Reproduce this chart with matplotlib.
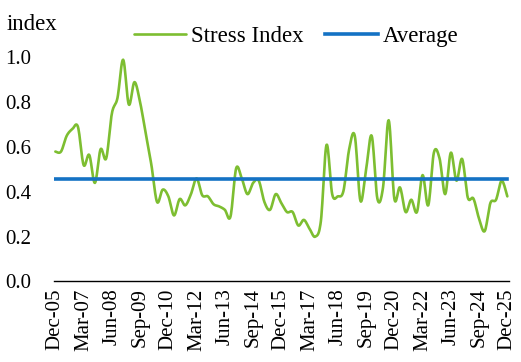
import numpy as np
import matplotlib
matplotlib.use("Agg")
import matplotlib.pyplot as plt

# Quarterly stress index, Dec-05 .. Dec-25
stress_index = [
    0.58, 0.58, 0.65, 0.68, 0.69, 0.52, 0.565, 0.44, 0.59, 0.55,
    0.75, 0.82, 0.99, 0.79, 0.89, 0.80, 0.66, 0.52, 0.355, 0.41,
    0.38, 0.295, 0.368, 0.34, 0.39, 0.46, 0.385, 0.38, 0.345, 0.335,
    0.32, 0.29, 0.505, 0.46, 0.39, 0.44, 0.45, 0.355, 0.32, 0.39,
    0.35, 0.31, 0.31, 0.25, 0.275, 0.235, 0.20, 0.27, 0.61, 0.39,
    0.38, 0.405, 0.59, 0.65, 0.36, 0.50, 0.65, 0.37, 0.42, 0.72,
    0.37, 0.42, 0.31, 0.365, 0.31, 0.475, 0.34, 0.575, 0.55, 0.39,
    0.575, 0.45, 0.547, 0.375, 0.37, 0.28, 0.225, 0.35, 0.365, 0.45,
    0.38,
]
average_value = 0.457

tick_labels = ["Dec-05", "Mar-07", "Jun-08", "Sep-09", "Dec-10", "Mar-12",
               "Jun-13", "Sep-14", "Dec-15", "Mar-17", "Jun-18", "Sep-19",
               "Dec-20", "Mar-22", "Jun-23", "Sep-24", "Dec-25"]
tick_step = 5  # one label every five quarters

y_ticks = [0.0, 0.2, 0.4, 0.6, 0.8, 1.0]

GREEN = "#7DBE31"
BLUE = "#1472C4"
FONT = ["Liberation Serif", "DejaVu Serif"]


def smooth(x, y, n=12):
    """Catmull-Rom curve through the points (smoothed line style)."""
    x = np.asarray(x, float)
    y = np.asarray(y, float)
    px = np.concatenate([[x[0]], x, [x[-1]]])
    py = np.concatenate([[y[0]], y, [y[-1]]])
    t = np.linspace(0, 1, n, endpoint=False)
    xs, ys = [], []
    for i in range(1, len(px) - 2):
        for arr, out in ((px, xs), (py, ys)):
            p0, p1, p2, p3 = arr[i - 1], arr[i], arr[i + 1], arr[i + 2]
            out.append(0.5 * ((2 * p1) + (-p0 + p2) * t
                              + (2 * p0 - 5 * p1 + 4 * p2 - p3) * t ** 2
                              + (-p0 + 3 * p1 - 3 * p2 + p3) * t ** 3))
    xs.append([x[-1]])
    ys.append([y[-1]])
    return np.concatenate(xs), np.concatenate(ys)


plt.rcParams["font.family"] = FONT

fig = plt.figure(figsize=(5.21, 3.62), dpi=100)
ax = fig.add_axes([0.103, 0.2224, 0.874, 0.6188])

q = np.arange(len(stress_index))
sx, sy = smooth(q, stress_index)
ax.plot(sx, sy, color=GREEN, lw=1.9, label="Stress Index", clip_on=False,
        solid_capstyle="round", zorder=3)
ax.plot([q[0], q[-1]], [average_value, average_value], color=BLUE, lw=2.6,
        label="Average", zorder=4)

ax.set_xlim(-0.3, q[-1] + 0.3)
ax.set_ylim(0, 1.0)
ax.set_yticks(y_ticks)
ax.set_yticklabels([f"{v:.1f}" for v in y_ticks], fontsize=15)
ax.set_xticks(q[::tick_step])
ax.set_xticklabels(tick_labels, rotation=90, fontsize=15)
ax.tick_params(axis="both", length=0)
ax.tick_params(axis="y", pad=16)
ax.tick_params(axis="x", pad=5)

for side in ("top", "right", "left"):
    ax.spines[side].set_visible(False)
ax.spines["bottom"].set_color("black")
ax.spines["bottom"].set_linewidth(1.0)

fig.text(0.013, 0.933, "index", fontsize=16.5, ha="left", va="center")

fig.legend(loc="center", bbox_to_anchor=(0.568, 0.898), ncol=2, frameon=False,
           fontsize=16.5, handlelength=2.3, handletextpad=0.2,
           columnspacing=0.95, borderpad=0.0, borderaxespad=0.0)

fig.savefig("out.png", dpi=100)
